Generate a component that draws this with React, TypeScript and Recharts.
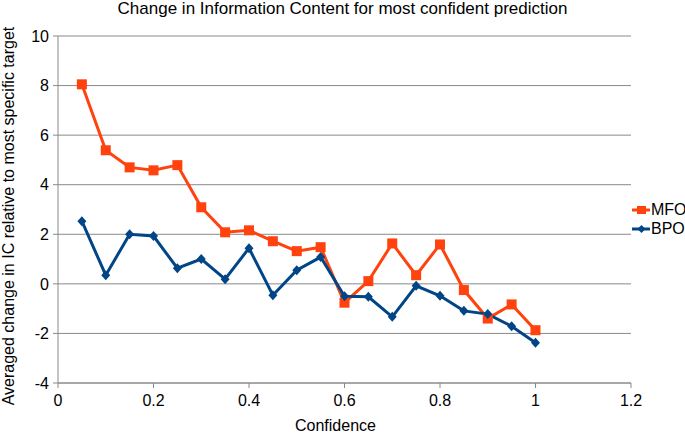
import { LineChart, Line, XAxis, YAxis, CartesianGrid, Label } from "recharts";

const confidence = [0.05, 0.1, 0.15, 0.2, 0.25, 0.3, 0.35, 0.4, 0.45, 0.5, 0.55, 0.6, 0.65, 0.7, 0.75, 0.8, 0.85, 0.9, 0.95, 1.0];
const mfo = [8.05, 5.39, 4.7, 4.58, 4.79, 3.09, 2.08, 2.16, 1.72, 1.32, 1.48, -0.76, 0.11, 1.63, 0.35, 1.59, -0.25, -1.4, -0.83, -1.87];
const bpo = [2.53, 0.35, 2.0, 1.93, 0.63, 1.0, 0.19, 1.44, -0.46, 0.55, 1.08, -0.5, -0.52, -1.33, -0.08, -0.48, -1.09, -1.22, -1.71, -2.38];
const xTicks = [0, 0.2, 0.4, 0.6, 0.8, 1, 1.2];
const yTicks = [-4, -2, 0, 2, 4, 6, 8, 10];

const MFO_COLOR = "#ff420e";
const BPO_COLOR = "#004586";
const FONT = "'Liberation Sans', Arial, sans-serif";
const FS = 16;

const data = confidence.map((c, i) => ({ c, MFO: mfo[i], BPO: bpo[i] }));

function SquareDot(props: any) {
  const { cx, cy } = props;
  if (cx == null || cy == null) return null;
  return <rect x={cx - 5} y={cy - 5} width={10} height={10} fill={MFO_COLOR} />;
}

function DiamondDot(props: any) {
  const { cx, cy } = props;
  if (cx == null || cy == null) return null;
  return <polygon points={`${cx},${cy - 5} ${cx + 4.5},${cy} ${cx},${cy + 5} ${cx - 4.5},${cy}`} fill={BPO_COLOR} />;
}

function LegendBox() {
  const items = [
    { name: "MFO", color: MFO_COLOR, square: true },
    { name: "BPO", color: BPO_COLOR, square: false },
  ];
  return (
    <div style={{ position: "absolute", left: 632, top: 200, fontFamily: FONT, fontSize: FS, color: "#000" }}>
      {items.map((it) => (
        <div key={it.name} style={{ display: "flex", alignItems: "center", height: 19 }}>
          <svg width={19} height={12}>
            <line x1={0} y1={6} x2={18} y2={6} stroke={it.color} strokeWidth={3} />
            {it.square ? (
              <rect x={5} y={2} width={9} height={8} fill={it.color} />
            ) : (
              <polygon points="9.5,2 13.5,6 9.5,10 5.5,6" fill={it.color} />
            )}
          </svg>
          <span>{it.name}</span>
        </div>
      ))}
    </div>
  );
}

function YTitle() {
  return (
    <text
      x={10}
      y={216}
      transform="rotate(-90 10 216)"
      textAnchor="middle"
      dominantBaseline="middle"
      style={{ fill: "#000", fontSize: FS, fontFamily: FONT }}
    >
      Averaged change in IC relative to most specific target
    </text>
  );
}

export default function App() {
  return (
    <div style={{ position: "absolute", left: 0, top: 0, width: 685, height: 434, background: "#fff", fontFamily: FONT }}>
      <div style={{ position: "absolute", left: 0, top: -1, width: 685, textAlign: "center", fontSize: 17, lineHeight: "20px", color: "#000" }}>
        Change in Information Content for most confident prediction
      </div>
      <LineChart width={685} height={434} data={data} margin={{ top: 36, right: 54, bottom: 0, left: 0 }}>
        <CartesianGrid horizontal vertical={false} stroke="#8a8a8a" strokeWidth={1} />
        <XAxis
          dataKey="c"
          type="number"
          domain={[0, 1.2]}
          ticks={xTicks}
          tickFormatter={(v: number) => String(v)}
          height={51}
          tickSize={5}
          tickMargin={7}
          stroke="#8a8a8a"
          tick={{ fill: "#000", fontSize: FS, fontFamily: FONT }}
        >
          <Label value="Confidence" position="insideBottom" offset={3} dx={-9} style={{ fill: "#000", fontSize: FS, fontFamily: FONT }} />
        </XAxis>
        <YAxis
          type="number"
          domain={[-4, 10]}
          ticks={yTicks}
          width={58}
          tickSize={5}
          tickMargin={4}
          stroke="#8a8a8a"
          tick={{ fill: "#000", fontSize: FS, fontFamily: FONT }}
        >
          <Label content={<YTitle />} />
        </YAxis>
        <YAxis yAxisId="right" orientation="right" width={0} domain={[-4, 10]} tick={false} stroke="#8a8a8a" />
        <Line dataKey="MFO" stroke={MFO_COLOR} strokeWidth={3} dot={<SquareDot />} activeDot={false} isAnimationActive={false} />
        <Line dataKey="BPO" stroke={BPO_COLOR} strokeWidth={3} dot={<DiamondDot />} activeDot={false} isAnimationActive={false} />
      </LineChart>
      <LegendBox />
    </div>
  );
}
